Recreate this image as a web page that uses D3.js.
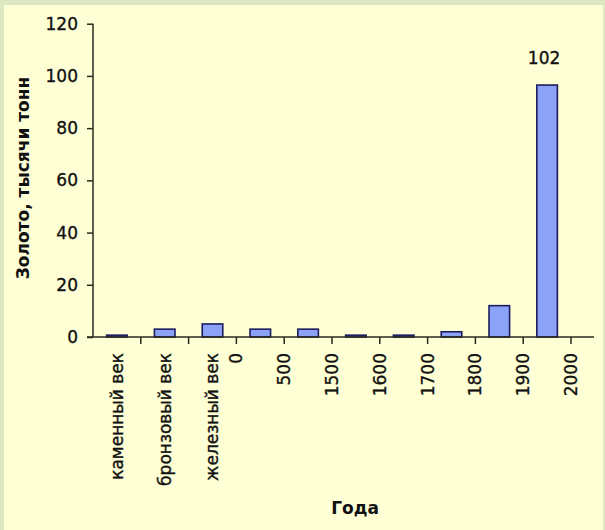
<!DOCTYPE html>
<html><head><meta charset="utf-8">
<script src="https://cdn.jsdelivr.net/npm/d3@7/dist/d3.min.js"></script>
<style>html,body{margin:0;padding:0;background:#dde8c2;}svg{display:block;}</style>
</head><body>
<script>
// Data
const categories = ["каменный век","бронзовый век","железный век","0–500","500–1500","1500–1600","1600–1700","1700–1800","1800–1900","1900–2000"];
const values = [0.7, 3, 5, 3, 3, 0.7, 0.7, 2, 12, 96.5];
const centerLabels = ["каменный век","бронзовый век","железный век"]; // labels placed under bars
const edgeLabels = ["0","500","1500","1600","1700","1800","1900","2000"]; // labels at band edges after 3rd bar
const yTicks = [0,20,40,60,80,100,120];
const dataLabelText = "102";
const yTitle = "Золото, тысячи тонн";
const xTitle = "Года";

const W = 605, H = 530;
const svg = d3.select("body").append("svg").attr("width", W).attr("height", H);
svg.append("rect").attr("width", W).attr("height", H).attr("fill", "#dde8c2");
svg.append("rect").attr("x", 4).attr("y", 5).attr("width", W - 6).attr("height", H - 5).attr("fill", "#ffffd6");

const x0 = 93, x1 = 571, yBase = 337, yTop = 23.7;
const x = d3.scaleBand().domain(categories).range([x0, x1]).padding(0);
const y = d3.scaleLinear().domain([0, 120]).range([yBase, yTop]);

const font = "DejaVu Sans, Arial, sans-serif";
const axisColor = "#2a2a1c";
const txt = sel => sel.attr("font-family", font).attr("font-size", 17).attr("fill", "#111")
  .attr("stroke", "#111").attr("stroke-width", 0.35);

// Bars
const bw = x.bandwidth() * 0.43;
svg.selectAll("rect.bar").data(categories).join("rect")
  .attr("class", "bar")
  .attr("x", d => x(d) + x.bandwidth() / 2 - bw / 2)
  .attr("y", (d, i) => y(values[i]))
  .attr("width", bw)
  .attr("height", (d, i) => y(0) - y(values[i]))
  .attr("fill", "#8ca2f6")
  .attr("stroke", "#1c1c60")
  .attr("stroke-width", 1.6);

// Y axis
const yAxis = d3.axisLeft(y).tickValues(yTicks).tickSize(6).tickPadding(9);
const gy = svg.append("g").attr("transform", `translate(${x0},0)`).call(yAxis);
gy.select(".domain").attr("stroke", axisColor).attr("stroke-width", 1.5).attr("d", `M0,${yTop}V${yBase}`);
gy.selectAll(".tick line").attr("stroke", axisColor).attr("stroke-width", 1.5);
gy.selectAll(".tick text").call(txt);

// X axis line
svg.append("line").attr("x1", x0 - 6).attr("x2", 594).attr("y1", yBase).attr("y2", yBase)
  .attr("stroke", axisColor).attr("stroke-width", 1.5);
// ticks at band edges
const edges = categories.map(c => x(c) + x.bandwidth());
svg.selectAll("line.xt").data(edges).join("line").attr("class", "xt")
  .attr("x1", d => d).attr("x2", d => d).attr("y1", yBase).attr("y2", yBase + 7)
  .attr("stroke", axisColor).attr("stroke-width", 1.5);

// Center labels
svg.selectAll("text.cl").data(centerLabels).join("text").attr("class", "cl")
  .attr("transform", (d, i) => `translate(${x(categories[i]) + x.bandwidth() / 2},353) rotate(-90)`)
  .attr("text-anchor", "end").attr("dy", "0.35em").call(txt).text(d => d);
// Edge labels
svg.selectAll("text.el").data(edgeLabels).join("text").attr("class", "el")
  .attr("transform", (d, i) => `translate(${edges[i + 2]},353) rotate(-90)`)
  .attr("text-anchor", "end").attr("dy", "0.35em").call(txt).text(d => d);

// Data label
const last = categories[categories.length - 1];
svg.append("text").attr("x", x(last) + x.bandwidth() / 2 - 3).attr("y", 64)
  .attr("text-anchor", "middle").call(txt).text(dataLabelText);

// Titles
svg.append("text").attr("transform", `translate(29,178) rotate(-90)`)
  .attr("text-anchor", "middle").attr("font-family", font).attr("font-weight", "bold")
  .attr("font-size", 17).attr("fill", "#111").text(yTitle);
svg.append("text").attr("x", 355).attr("y", 514)
  .attr("text-anchor", "middle").attr("font-family", font).attr("font-weight", "bold")
  .attr("font-size", 17).attr("fill", "#111").text(xTitle);
</script>
</body></html>
